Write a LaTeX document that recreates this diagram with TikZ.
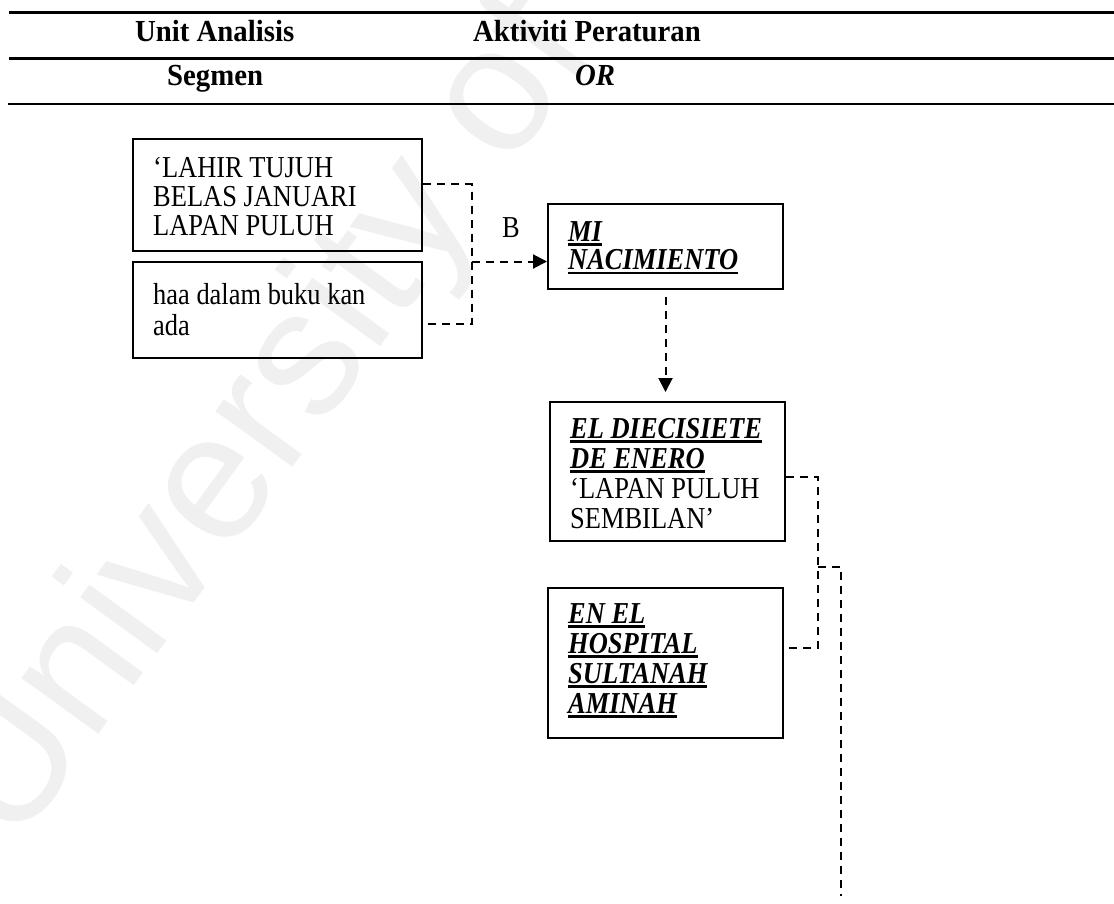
\documentclass[tikz,border=0pt]{standalone}
\usepackage{fontspec}
\setmainfont{Liberation Serif}
\newfontfamily\boxfont{Liberation Serif}[FakeStretch=0.87]
\newfontfamily\headfont{Liberation Serif}[FakeStretch=0.94]
\newfontfamily\wmfont{Liberation Sans}
\usetikzlibrary{arrows.meta}

% bold italic, underlined word group
\newcommand\ulbi[1]{\setbox0=\hbox{\bfseries\itshape #1}\rlap{\rule[-4.8pt]{\wd0}{2.5pt}}\box0}
% left-aligned stack of lines whose baseline is the first line's baseline
\newcommand\linestack[2]{\vtop{\baselineskip=#1\lineskiplimit=-100pt\lineskip=0pt\halign{##\hfil\cr#2\crcr}}}

\begin{document}
\begin{tikzpicture}[x=1pt,y=-1pt,
  rulestyle/.style={line width=2.2pt},
  head/.style={inner sep=0pt,anchor=base west,font=\headfont\fontsize{30.6}{34}\selectfont\bfseries},
  boxstyle/.style={draw,line width=2pt,inner sep=0pt,anchor=north west},
  txt/.style={inner sep=0pt,anchor=base west,font=\boxfont\fontsize{30.4}{30}\selectfont},
  dconn/.style={line width=2pt,dash pattern=on 8pt off 6pt},
  tip/.style={-{Triangle[length=14pt,width=14pt]}},
  wm/.style={inner sep=0pt,text=black!6,font=\fontsize{180}{200}\selectfont\wmfont}
]
\useasboundingbox (0,0) rectangle (1114,903);

% watermark
\begin{scope}
  \clip (0,0) rectangle (1114,903);
  \node[wm,rotate=54,anchor=base west] (wmark) at (15,850) {University of Malaya};
\end{scope}

% table rules
\draw[rulestyle] (9,12.5) -- (1114,12.5);
\draw[rulestyle] (9,58.5) -- (1114,58.5);
\draw[rulestyle] (8,104) -- (1114,104);

% table headings
\node[head] (h1) at (135,41) {Unit Analisis};
\node[head] (h2) at (473,41) {Aktiviti Peraturan};
\node[head] (h3) at (167,85) {Segmen};
\node[head] (h4) at (575,85) {\itshape OR};

% boxes
\node[boxstyle,minimum width=289pt,minimum height=112pt] (b1) at (132,138) {};
\node[boxstyle,minimum width=289pt,minimum height=96pt]  (b2) at (132,261) {};
\node[boxstyle,minimum width=235pt,minimum height=85pt]  (b3) at (547,203) {};
\node[boxstyle,minimum width=235pt,minimum height=139pt] (b4) at (549,401) {};
\node[boxstyle,minimum width=235pt,minimum height=150pt] (b5) at (547,587) {};

% box texts
\node[txt] (t1) at (153,177) {\linestack{29pt}{‘LAHIR TUJUH\cr BELAS JANUARI\cr LAPAN PULUH}};
\node[txt] (t2) at (153,304) {\linestack{31pt}{haa dalam buku kan\cr ada}};
\node[txt] (t3) at (568,241) {\linestack{28.5pt}{\ulbi{MI}\cr \ulbi{NACIMIENTO}}};
\node[txt] (t4) at (570,438) {\linestack{30pt}{\ulbi{EL DIECISIETE}\cr \ulbi{DE ENERO}\cr ‘LAPAN PULUH\cr SEMBILAN’}};
\node[txt] (t5) at (568,623) {\linestack{30pt}{\ulbi{EN EL}\cr \ulbi{HOSPITAL}\cr \ulbi{SULTANAH}\cr \ulbi{AMINAH}}};

% connector label
\node[txt] (lb) at (502,237) {B};

% junction points
\coordinate (ja) at (471.5,184);
\coordinate (jb) at (471.5,324);
\coordinate (jm) at (471.5,261.5);
\coordinate (jc) at (818,477);
\coordinate (jd) at (818,648);
\coordinate (je) at (818,567);
\coordinate (jf) at (841,567);
\coordinate (jg) at (841,896);

% connectors
\draw[dconn] (b1.east |- ja) -- (ja) -- (jb) -- (b2.east |- jb);
\draw[dconn,tip] (jm) -- (b3.west |- jm);
\draw[dconn,tip,shorten <=7pt,shorten >=9pt] (b3.south) -- (b3.south |- b4.north);
\draw[dconn] (b4.east |- jc) -- (jc) -- (jd) -- (b5.east |- jd);
\draw[dconn] (je) -- (jf) -- (jg);
\end{tikzpicture}
\end{document}
